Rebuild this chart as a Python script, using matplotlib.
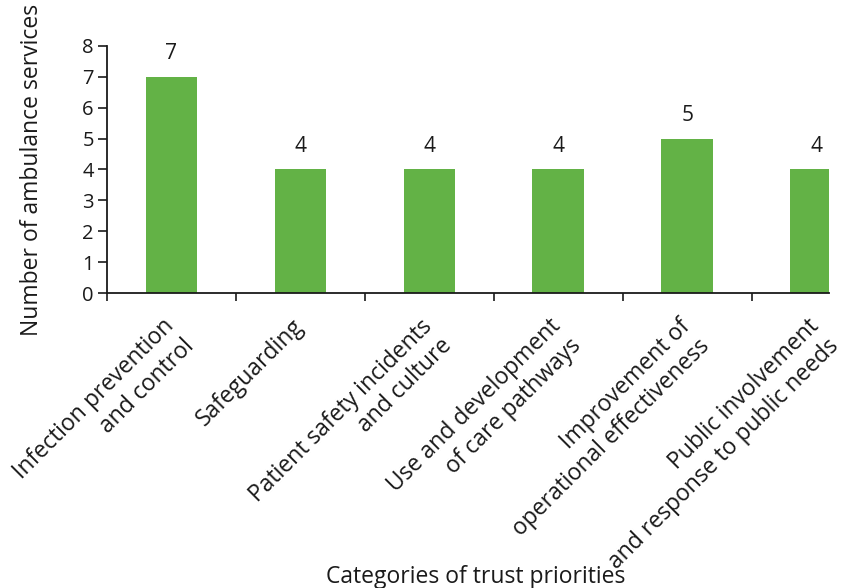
import numpy as np
import matplotlib
matplotlib.use("Agg")
import matplotlib.pyplot as plt

# Trust priority categories and number of ambulance services per category
categories = [
    "Infection prevention\nand control",
    "Safeguarding",
    "Patient safety incidents\nand culture",
    "Use and development\nof care pathways",
    "Improvement of\noperational effectiveness",
    "Public involvement\nand response to public needs",
]
services = [7, 4, 4, 4, 5, 4]
y_ticks = [0, 1, 2, 3, 4, 5, 6, 7, 8]

BAR_COLOR = "#63b246"
INK = "#1a1a1a"

plt.rcParams["font.family"] = ["Open Sans", "DejaVu Sans"]
plt.rcParams["font.size"] = 16.5

fig = plt.figure(figsize=(8.44, 5.88), dpi=100)
ax = fig.add_axes([0.1268, 0.5017, 0.8554, 0.4201])

x = np.arange(len(categories))
ax.bar(x, services, width=0.4, color=BAR_COLOR, zorder=2)

# Value labels above each bar
for xi, val in zip(x, services):
    ax.annotate(str(val), (xi, val), xytext=(0, 9), textcoords="offset points",
                ha="center", va="bottom", color=INK, fontsize=15)

ax.set_xlim(-0.5, 5.1)
ax.set_ylim(0, 8)
ax.set_yticks(y_ticks)

# Tick marks sit between categories; category names hang under the bars
ax.set_xticks(np.arange(len(categories)) - 0.5)
ax.set_xticklabels([])
for xi, name in zip(x, categories):
    ax.annotate(name, (xi, 0), xycoords=("data", "axes fraction"),
                xytext=(-6.5, -15.5), textcoords="offset points",
                rotation=45, rotation_mode="anchor", ha="right", va="top",
                multialignment="right", linespacing=1.2, color=INK,
                annotation_clip=False)

ax.tick_params(axis="x", direction="out", length=6, width=1.2, color=INK)
ax.tick_params(axis="y", direction="out", length=6.5, width=1.2, color=INK,
               labelcolor=INK, labelsize=14.5, pad=3)

for side in ("top", "right"):
    ax.spines[side].set_visible(False)
for side in ("left", "bottom"):
    ax.spines[side].set_linewidth(1.3)
    ax.spines[side].set_color(INK)

ax.set_ylabel("Number of ambulance services", color=INK)
ax.yaxis.set_label_coords(-0.087, 0.5)
ax.set_xlabel("Categories of trust priorities", color=INK)
ax.xaxis.set_label_coords(0.51, -1.1)

fig.savefig("out.png", dpi=100)
